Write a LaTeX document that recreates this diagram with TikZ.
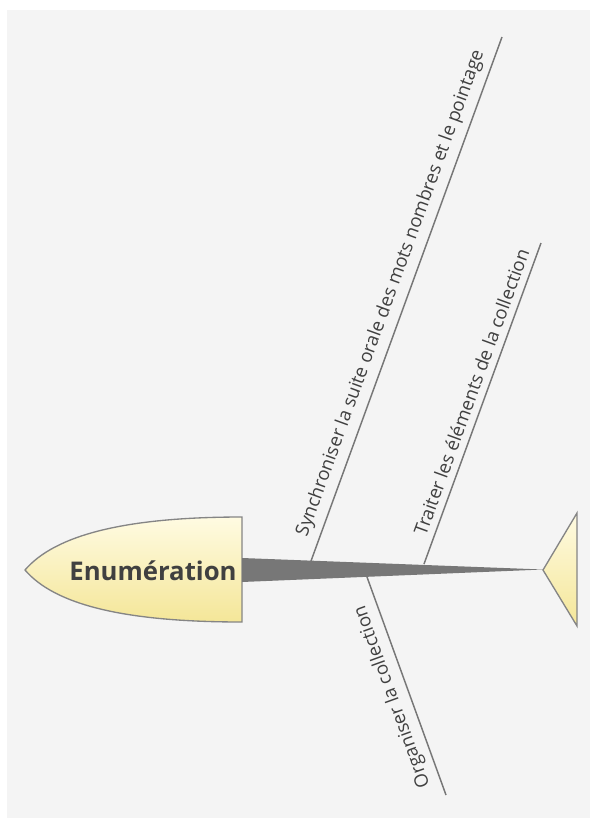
\documentclass[tikz,border=0pt]{standalone}
\usepackage{fontspec}
\setmainfont{Open Sans}
\usetikzlibrary{positioning,calc}
\definecolor{fishBg}{HTML}{F4F4F4}
\definecolor{fishLine}{HTML}{777777}
\definecolor{fishText}{HTML}{404040}
\definecolor{fishYellowTop}{HTML}{FFFBE2}
\definecolor{fishYellowBot}{HTML}{F4E698}
\tikzset{
  bone/.style={draw=fishLine, line width=1.1pt},
  bonelabel/.style={sloped, anchor=south west, inner xsep=0pt, inner ysep=5pt, font=\fontsize{13.9}{16}\selectfont, text=fishText},
  yellowpart/.style={draw=fishLine!90, line width=1pt, top color=fishYellowTop, bottom color=fishYellowBot},
}

\begin{document}
\begin{tikzpicture}[x=0.75pt, y=-0.75pt]
\useasboundingbox (0,0) rectangle (590,818);
\fill[fishBg] (7,10) rectangle (590,818);
% tete
\path[yellowpart] (242,517) -- (242,622) .. controls (125,622) and (55,605) .. (25,570) .. controls (55,535) and (125,517) .. (242,517) -- cycle;
\node[font=\fontsize{19.3}{22}\selectfont\bfseries, text=fishText] (head) at (153,571) {Enumération};
% arete centrale
\fill[fishLine] (242,558) -- (543,569.5) -- (242,582) -- cycle;
% queue
\path[yellowpart] (543,570) -- (577,513) -- (577,626) -- cycle;
% aretes
\coordinate (sync1) at (311,561);
\coordinate (sync2) at (502,37);
\coordinate (trait1) at (424,564);
\coordinate (trait2) at (541,243);
\coordinate (org1) at (367,577);
\coordinate (org2) at (446,795);
\draw[bone] (sync1) -- (sync2) node[bonelabel, pos=0.036] (labSync) {Synchroniser la suite orale des mots nombres et le pointage};
\draw[bone] (trait1) -- (trait2) node[bonelabel, pos=0.075] (labTrait) {Traiter les éléments de la collection};
\draw[bone] (org2) -- (org1) node[bonelabel, allow upside down, pos=0.06] (labOrg) {Organiser la collection};
\end{tikzpicture}
\end{document}
